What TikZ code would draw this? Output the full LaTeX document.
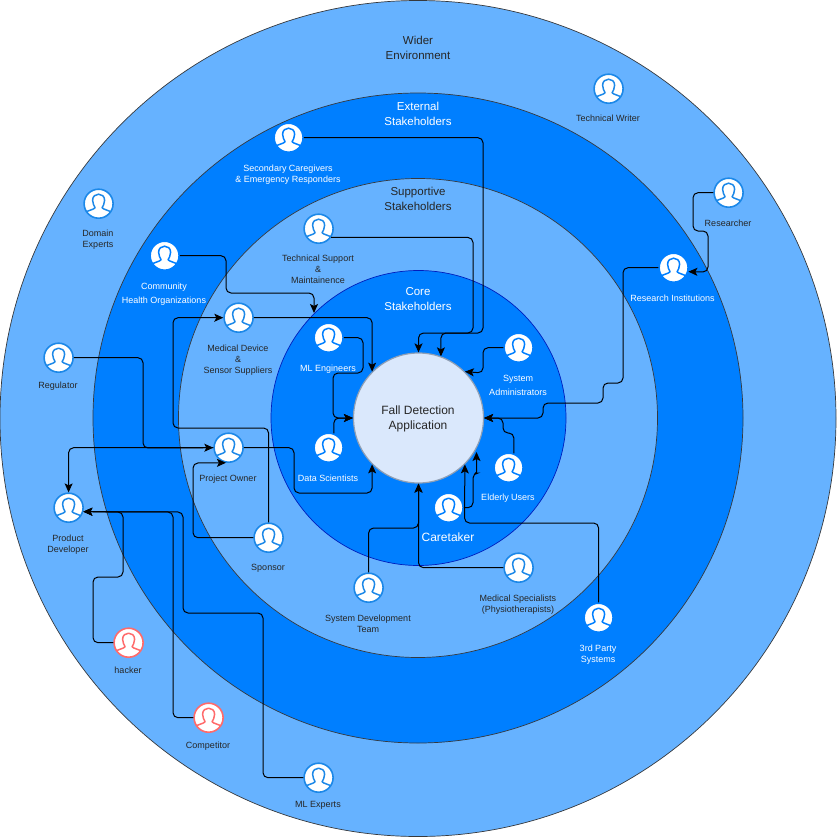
\documentclass[tikz,border=0pt]{standalone}
\usepackage{fontspec}
\setmainfont{Liberation Sans}
\usetikzlibrary{arrows.meta}

\definecolor{ringlight}{HTML}{66B2FF}
\definecolor{ringdark}{HTML}{007FFF}
\definecolor{coreedge}{HTML}{001DBC}
\definecolor{ringedge}{HTML}{36393D}
\definecolor{appfill}{HTML}{DAE8FC}
\definecolor{appedge}{HTML}{8F9FB5}
\definecolor{userblue}{HTML}{1C88E8}
\definecolor{userred}{HTML}{FF6B6B}

\tikzset{
  ring/.style={circle,draw=ringedge,line width=0.7pt,inner sep=0pt},
  person/.style={circle,draw=#1,fill=white,line width=1.6pt,minimum size=29pt,inner sep=0pt,
    xshift=0.6pt,yshift=0.3pt,
    path picture={
      \draw[#1,line width=1.5pt,line join=round]
        (-15,9.5) .. controls (-9,6) and (-5,6) .. (-3.5,4)
        .. controls (-4.5,2) and (-6,0) .. (-6,-3.5)
        .. controls (-6,-7.5) and (-3,-9.5) .. (0,-9.5)
        .. controls (3,-9.5) and (6,-7.5) .. (6,-3.5)
        .. controls (6,0) and (4.5,2) .. (3.5,4)
        .. controls (5,6) and (9,6) .. (15,9.5);
    }},
  lightlab/.style={inner sep=0pt,font=\fontsize{9}{11}\selectfont,text=black!85,align=center,yshift=-0.7pt},
  darklab/.style={inner sep=0pt,font=\fontsize{9}{11}\selectfont,text=white,align=center,yshift=-0.7pt},
  link/.style={draw=black,line width=1pt,rounded corners=5pt,-{Stealth[length=9pt,width=8pt,inset=2pt]}}
}

\begin{document}
\begin{tikzpicture}[x=1pt,y=-1pt]
  \useasboundingbox (0,0) rectangle (838,838);

  % rings
  \node[ring,fill=ringlight,minimum size=836pt] (wider) at (418,418.5) {};
  \node[ring,fill=ringdark,minimum size=650pt] (external) at (418,418) {};
  \node[ring,fill=ringlight,minimum size=479pt] (supportive) at (418,418) {};
  \node[ring,fill=ringdark,draw=coreedge,minimum size=295pt] (core) at (418.5,418) {};
  \node[ring,fill=appfill,draw=appedge,line width=1.2pt,minimum size=130pt] (app) at (418.5,418) {};
  \coordinate (appcare) at (476.5,452);
  \coordinate (appcommunity) at (314,313);

  \node[lightlab,font=\fontsize{12}{15}\selectfont] (appname) at (418,418.5) {Fall Detection\\Application};
  \node[lightlab,font=\fontsize{11.5}{15}\selectfont] (widername) at (418,47.5) {Wider\\Environment};
  \node[darklab,font=\fontsize{11.5}{15}\selectfont] (externalname) at (418,113) {External\\Stakeholders};
  \node[lightlab,font=\fontsize{11.5}{15}\selectfont] (supportivename) at (418,198.5) {Supportive\\Stakeholders};
  \node[darklab,font=\fontsize{11.5}{15}\selectfont] (corename) at (418,298.5) {Core\\Stakeholders};

  % people
  \node[person=userblue] (techwriter) at (608,89) {};
  \node[person=ringdark] (secondary) at (288,138) {};
  \node[person=userblue] (researcher) at (728,193) {};
  \node[person=ringdark] (institutions) at (673,268) {};
  \node[person=userblue] (domain) at (98,204) {};
  \node[person=userblue] (techsupport) at (318,229) {};
  \node[person=ringdark] (community) at (164,256) {};
  \node[person=userblue] (meddevice) at (238,318) {};
  \node[person=ringdark] (mleng) at (328,338) {};
  \node[person=ringdark] (sysadmin) at (518,348) {};
  \node[person=userblue] (regulator) at (58,358) {};
  \node[person=userblue] (projectowner) at (228,448) {};
  \node[person=ringdark] (datasci) at (328,448) {};
  \node[person=ringdark] (elderly) at (508,468) {};
  \node[person=userblue] (productdev) at (68,508) {};
  \node[person=ringdark] (caretaker) at (448,508) {};
  \node[person=userblue] (sponsor) at (268,538) {};
  \node[person=userblue] (medspec) at (518,568) {};
  \node[person=userblue] (sysdev) at (368,588) {};
  \node[person=ringdark] (thirdparty) at (598,618) {};
  \node[person=userred] (hacker) at (128,643) {};
  \node[person=userred] (competitor) at (208,718) {};
  \node[person=userblue] (mlexperts) at (318,778) {};

  % labels
  \node[lightlab] (techwriterlab) at (608,118) {Technical Writer};
  \node[darklab] (secondarylab) at (288,173.5) {Secondary Caregivers\\\& Emergency Responders};
  \node[lightlab] (researcherlab) at (728,223) {Researcher};
  \node[darklab] (institutionslab) at (672.5,298) {Research Institutions};
  \node[lightlab] (domainlab) at (98,238.5) {Domain\\ Experts};
  \node[lightlab] (techsupportlab) at (318,269) {Technical Support\\\&\\Maintainence};
  \node[darklab,font=\fontsize{9}{14}\selectfont] (communitylab) at (164,293) {Community\\Health Organizations};
  \node[lightlab] (meddevicelab) at (238,359) {Medical Device\\\&\\Sensor Suppliers};
  \node[darklab] (mlenglab) at (328,368) {ML Engineers};
  \node[darklab,font=\fontsize{9}{14}\selectfont] (sysadminlab) at (518,385) {System\\Administrators};
  \node[lightlab] (regulatorlab) at (58,385) {Regulator};
  \node[lightlab] (projectownerlab) at (228,478) {Project Owner};
  \node[darklab] (datascilab) at (328,478) {Data Scientists};
  \node[darklab] (elderlylab) at (508,497.5) {Elderly Users};
  \node[lightlab] (productdevlab) at (68,543.5) {Product\\Developer};
  \node[darklab,font=\fontsize{12}{15}\selectfont] (caretakerlab) at (448,537) {Caretaker};
  \node[lightlab] (sponsorlab) at (268,568) {Sponsor};
  \node[lightlab] (medspeclab) at (518,603.5) {Medical Specialists\\(Physiotherapists)};
  \node[lightlab] (sysdevlab) at (368,623.5) {System Development\\Team};
  \node[darklab] (thirdpartylab) at (598,653.5) {3rd Party\\Systems};
  \node[lightlab] (hackerlab) at (128,670) {hacker};
  \node[lightlab] (competitorlab) at (208,745) {Competitor};
  \node[lightlab] (mlexpertslab) at (318,805) {ML Experts};

  % connectors to the application
  \draw[link] (secondary.east) -| (483,333) -| (app.north);
  \draw[link] (techsupport.-35) -| (473,333) -| (app.70);
  \draw[link] (community.east) -| (226,293) -| (appcommunity);
  \draw[link] (meddevice.east) -| (app.135);
  \draw[link] (mleng.east) -| (363,373) -| (333,418) -- (app.west);
  \draw[link] (datasci.70) |- (app.west);
  \draw[link] (projectowner.east) -| (294,493) -| (app.225);
  \draw[link] (sysadmin.west) -| (483,373) -- (app.45);
  \draw[link] (institutions.west) -| (623,383) -| (603,403) -| (543,418) -- (app.east);
  \draw[link] (elderly.70) |- (503,433) |- (app.east);
  \draw[link] (caretaker.east) -| (473,473) [rounded corners=1pt] -| (appcare);
  \draw[link] (thirdparty.north) |- (464.5,523) -- (app.-45);
  \draw[link] (sysdev.north) |- (418.5,528) -- (app.south);
  \draw[link] (medspec.west) -| (app.south);

  % connectors between people
  \draw[link] (researcher.west) -| (693,231) -| (708,272) -- (institutions.-15);
  \draw[link] (regulator.east) -| (143,448) -- (projectowner.west);
  \draw[link] (projectowner.west) -| (productdev.north);
  \draw[link] (sponsor.north) |- (173,428) |- (meddevice.west);
  \draw[link] (sponsor.west) -| (193,463) -- (projectowner.-100);
  \draw[link] (hacker.west) -| (93,577) -| (123,512) -- (productdev.-15);
  \draw[link] (competitor.west) -| (173,512) -- (productdev.-15);
  \draw[link] (mlexperts.west) -| (263,613) -| (183,512) -- (productdev.-15);
\end{tikzpicture}
\end{document}
